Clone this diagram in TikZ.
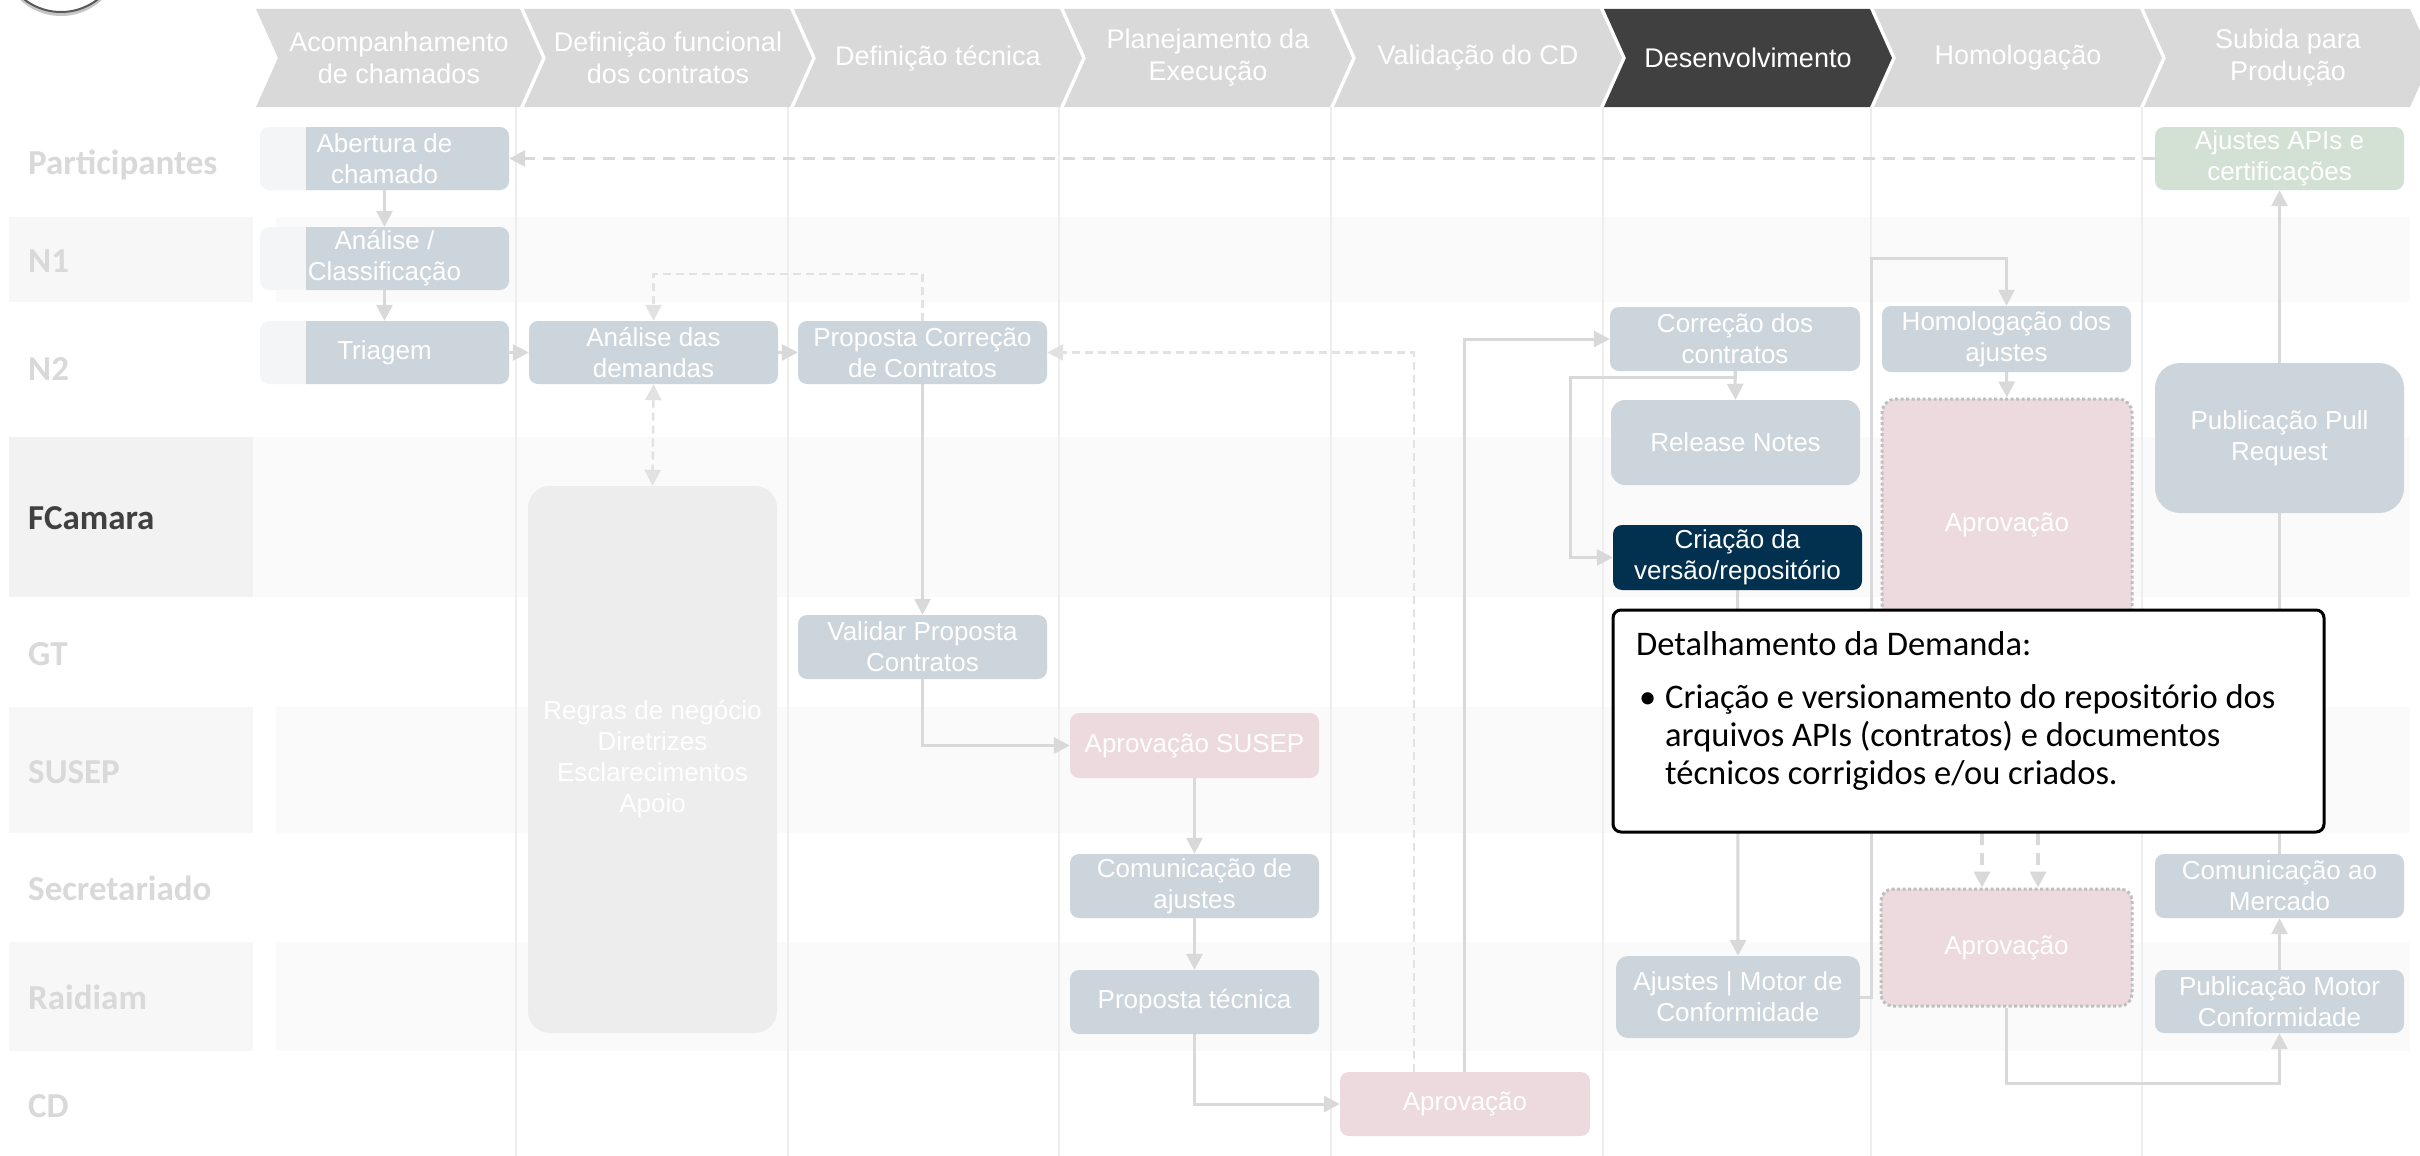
\documentclass[tikz,border=0pt]{standalone}
\usepackage{fontspec}
\setmainfont{Liberation Sans}
\newfontfamily\lblfont{Carlito}
\usetikzlibrary{arrows.meta,calc,shadows}
\definecolor{boxblue}{HTML}{CDD5DC}
\definecolor{boxlight}{HTML}{F3F5F7}
\definecolor{boxpink}{HTML}{EDDADE}
\definecolor{boxgreen}{HTML}{D3E1D4}
\definecolor{navy}{HTML}{02304F}
\definecolor{regrasc}{HTML}{EDEDED}
\definecolor{connc}{HTML}{D9D9D9}
\definecolor{dconnc}{HTML}{E2E2E2}
\definecolor{hdrc}{HTML}{D9D9D9}
\definecolor{hdrdark}{HTML}{404040}
\definecolor{collinec}{HTML}{EEEEEE}
\definecolor{bandc}{HTML}{FAFAFA}
\definecolor{cellc}{HTML}{F7F7F7}
\definecolor{cellhi}{HTML}{F2F2F2}
\definecolor{lblc}{HTML}{D9D9D9}
\definecolor{lbldark}{HTML}{404040}
\definecolor{dotgray}{HTML}{BFBFBF}
\pgfdeclarelayer{bg}
\pgfdeclarelayer{conn}
\pgfdeclarelayer{top}
\pgfsetlayers{bg,conn,main,top}
\newcommand\bxfont{\fontsize{26}{31}\selectfont}
\newcommand\hdfont{\fontsize{27}{32}\selectfont}
\newcommand\chev[3]{\fill[#3] (#1,9) -- (#2,9) -- (#2+22,58) -- (#2,107) -- (#1,107) -- (#1+22,58) -- cycle;}
\begin{document}
\begin{tikzpicture}[x=1pt,y=-1pt,
  box/.style={rounded corners=9pt, fill=boxblue, text=white, align=center, font=\bxfont, inner sep=0pt},
  txtbox/.style={text=white, align=center, font=\bxfont, inner sep=0pt},
  pinkbox/.style={box, fill=boxpink},
  dotbox/.style={box, fill=boxpink, draw=dotgray, line width=3pt, dash pattern=on 3pt off 2.5pt},
  hdtext/.style={text=white, align=center, font=\hdfont, inner sep=0pt},
  lbl/.style={font=\lblfont\bfseries\fontsize{35}{40}\selectfont, text=lblc, anchor=base west, inner sep=0pt},
  ctext/.style={font=\lblfont\fontsize{34.5}{38}\selectfont, text=black, anchor=base west, inner sep=0pt},
  conn/.style={draw=connc, line width=3pt, -{Triangle[width=16pt,length=16pt]}},
  plain/.style={draw=connc, line width=3pt},
  dthin/.style={draw=dconnc, line width=2.5pt, dash pattern=on 8pt off 5pt, -{Triangle[width=16pt,length=16pt]}},
  dtop/.style={draw=connc, line width=3pt, dash pattern=on 12pt off 8pt, -{Triangle[width=16pt,length=16pt]}},
  dthick/.style={draw=connc, line width=3.5pt, dash pattern=on 12pt off 8pt, -{Triangle[width=16pt,length=16pt]}}
]
\useasboundingbox (0,0) rectangle (2420,1156);
\begin{pgfonlayer}{bg}
\fill[white] (0,0) rectangle (2420,1156);
% row bands
\fill[cellc] (9,217) rectangle (253,302); \fill[bandc] (276,217) rectangle (2410,302);
\fill[cellhi] (9,437) rectangle (253,597); \fill[bandc] (253,437) rectangle (2410,597);
\fill[cellc] (9,707) rectangle (253,833); \fill[bandc] (276,707) rectangle (2410,833);
\fill[cellc] (9,942) rectangle (253,1051); \fill[bandc] (276,942) rectangle (2410,1051);
% column lines
\foreach \cx in {516,788,1059,1331,1603,1871,2142}{\draw[collinec, line width=1.5pt] (\cx,107) -- (\cx,1156);}
\end{pgfonlayer}

% corner circle
\fill[white, draw=gray!70!black, line width=2pt, drop shadow={opacity=0.45, shadow xshift=0pt, shadow yshift=-4pt}] (61,-48) circle (60);

% header chevrons
\chev{256}{520}{hdrc}
\chev{524}{790}{hdrc}
\chev{794}{1060}{hdrc}
\chev{1064}{1330}{hdrc}
\chev{1334}{1600}{hdrc}
\chev{1604}{1870}{hdrdark}
\chev{1874}{2140}{hdrc}
\chev{2144}{2410}{hdrc}
\node[hdtext] (h1) at (399,58) {Acompanhamento\\de chamados};
\node[hdtext] (h2) at (668,58) {Definição funcional\\dos contratos};
\node[hdtext] (h3) at (938,58) {Definição técnica};
\node[hdtext] (h4) at (1208,58) {Planejamento da\\Execução};
\node[hdtext] (h5) at (1478,58) {Validação do CD};
\node[hdtext] (h6) at (1748,58) {Desenvolvimento};
\node[hdtext] (h7) at (2018,58) {Homologação};
\node[hdtext] (h8) at (2288,58) {Subida para\\Produção};

% row labels
\node[lbl] (lp) at (28,174) {Participantes};
\node[lbl] (ln1) at (28,272) {N1};
\node[lbl] (ln2) at (28,380) {N2};
\node[lbl, text=lbldark] (lfc) at (28,529) {FCamara};
\node[lbl] (lgt) at (28,665) {GT};
\node[lbl] (lsu) at (28,783) {SUSEP};
\node[lbl] (lse) at (28,900) {Secretariado};
\node[lbl] (lra) at (28,1009) {Raidiam};
\node[lbl] (lcd) at (28,1117) {CD};

% split boxes of the first column
\foreach \ya/\yb in {127/190,227/290,321/384}{
  \fill[boxlight, rounded corners=9pt] (260,\ya) rectangle (509,\yb);
  \begin{scope}
    \clip (306,\ya) rectangle (520,\yb);
    \fill[boxblue, rounded corners=9pt] (260,\ya) rectangle (509,\yb);
  \end{scope}
}
\node[txtbox, minimum width=249pt, minimum height=63pt] (abertura) at (384.5,158.5) {Abertura de\\chamado};
\node[txtbox, minimum width=249pt, minimum height=63pt] (analise) at (384.5,258.5) {Análise /\\Classificação};
\node[txtbox, minimum width=249pt, minimum height=63pt] (triagem) at (384.5,352.5) {Triagem};

% other boxes
\node[box, minimum width=249pt, minimum height=63pt] (anadem) at (653.5,352.5) {Análise das\\demandas};
\node[box, minimum width=249pt, minimum height=63pt] (propcorr) at (922.5,352.5) {Proposta Correção\\de Contratos};
\node[box, fill=regrasc, rounded corners=22pt, minimum width=249pt, minimum height=547pt] (regras) at (652.5,759.5) {Regras de negócio\\Diretrizes\\Esclarecimentos\\Apoio};
\node[box, minimum width=249pt, minimum height=64pt] (validar) at (922.5,647) {Validar Proposta\\Contratos};
\node[pinkbox, minimum width=249pt, minimum height=65pt] (aprovsusep) at (1194.5,745.5) {Aprovação SUSEP};
\node[box, minimum width=249pt, minimum height=64pt] (comajustes) at (1194.5,886) {Comunicação de\\ajustes};
\node[box, minimum width=249pt, minimum height=64pt] (proptec) at (1194.5,1002) {Proposta técnica};
\node[pinkbox, minimum width=250pt, minimum height=64pt] (aprovcd) at (1465,1104) {Aprovação};
\node[box, minimum width=250pt, minimum height=64pt] (corrcontr) at (1735,339) {Correção dos\\contratos};
\node[box, minimum width=249pt, minimum height=85pt, rounded corners=14pt] (release) at (1735.5,442.5) {Release Notes};
\node[box, fill=navy, minimum width=249pt, minimum height=65pt] (criacao) at (1737.5,557.5) {Criação da\\versão/repositório};
\node[box, minimum width=244pt, minimum height=82pt, rounded corners=12pt] (ajmotor) at (1738,997) {Ajustes | Motor de\\Conformidade};
\node[box, minimum width=249pt, minimum height=66pt] (homolog) at (2006.5,339) {Homologação dos\\ajustes};
\node[dotbox, rounded corners=14pt, minimum width=250pt, minimum height=252pt] (aprovup) at (2007,525) {Aprovação};
\node[dotbox, rounded corners=12pt, minimum width=251pt, minimum height=117pt] (aprovlow) at (2006.5,947.5) {Aprovação};
\node[box, fill=boxgreen, minimum width=249pt, minimum height=63pt] (ajapis) at (2279.5,158.5) {Ajustes APIs e\\certificações};
\node[box, rounded corners=25pt, minimum width=249pt, minimum height=150pt] (pullreq) at (2279.5,438) {Publicação Pull\\Request};
\node[box, minimum width=249pt, minimum height=64pt] (commerc) at (2279.5,886) {Comunicação ao\\Mercado};
\node[box, minimum width=249pt, minimum height=63pt] (pubmotor) at (2279.5,1001.5) {Publicação Motor\\Conformidade};

% connectors
\begin{pgfonlayer}{conn}
\draw[conn] (abertura.south) -- (analise.north);
\draw[conn] (analise.south) -- (triagem.north);
\draw[conn] (triagem.east) -- (anadem.west);
\draw[conn] (anadem.east) -- (propcorr.west);
\draw[dthin] (propcorr.north) -- ++(0,-47) -| (anadem.north);
\draw[dthin, {Triangle[width=16pt,length=16pt]}-{Triangle[width=16pt,length=16pt]}] (anadem.south) -- (regras.north);
\draw[dtop] (ajapis.west) -- (abertura.east);
\draw[conn] (propcorr.south) -- (validar.north);
\draw[conn] (validar.south) |- (aprovsusep.west);
\draw[conn] (aprovsusep.south) -- (comajustes.north);
\draw[conn] (comajustes.south) -- (proptec.north);
\draw[conn] (proptec.south) |- (aprovcd.west);
\draw[dthin] ([xshift=-51pt]aprovcd.north) |- (propcorr.east);
\draw[conn] ([xshift=-1pt]aprovcd.north) |- (corrcontr.west);
\draw[conn] (corrcontr.south) -- (release.north);
\draw[conn] (corrcontr.south) -- ++(0,6) -- ++(-165,0) |- (criacao.west);
\draw[conn] (criacao.south) -- (ajmotor.north);
\draw[conn] (ajmotor.east) -- ++(11,0) -- ++(0,-739) -| (homolog.north);
\draw[conn] (homolog.south) -- (aprovup.north);
\draw[dthick] ([xshift=-25pt]aprovup.south) -- ([xshift=-24.5pt]aprovlow.north);
\draw[dthick] ([xshift=31pt]aprovup.south) -- ([xshift=31.5pt]aprovlow.north);
\draw[conn] (aprovlow.south) -- ++(0,76) -| (pubmotor.south);
\draw[conn] (pubmotor.north) -- (commerc.south);
\draw[conn] (commerc.north) -- (ajapis.south);
\end{pgfonlayer}

% callout
\begin{pgfonlayer}{top}
\node[draw=black, line width=3pt, fill=white, rounded corners=8pt, minimum width=711pt, minimum height=222pt, inner sep=0pt] (callout) at (1968.5,721) {};
\node[ctext] (ctitle) at (1636,655) {Detalhamento da Demanda:};
\node[ctext] (cbul) at (1639,708) {•};
\node[ctext] (cl1) at (1665,708) {Criação e versionamento do repositório dos};
\node[ctext] (cl2) at (1665,746) {arquivos APIs (contratos) e documentos};
\node[ctext] (cl3) at (1665,784) {técnicos corrigidos e/ou criados.};
\end{pgfonlayer}
\end{tikzpicture}
\end{document}
